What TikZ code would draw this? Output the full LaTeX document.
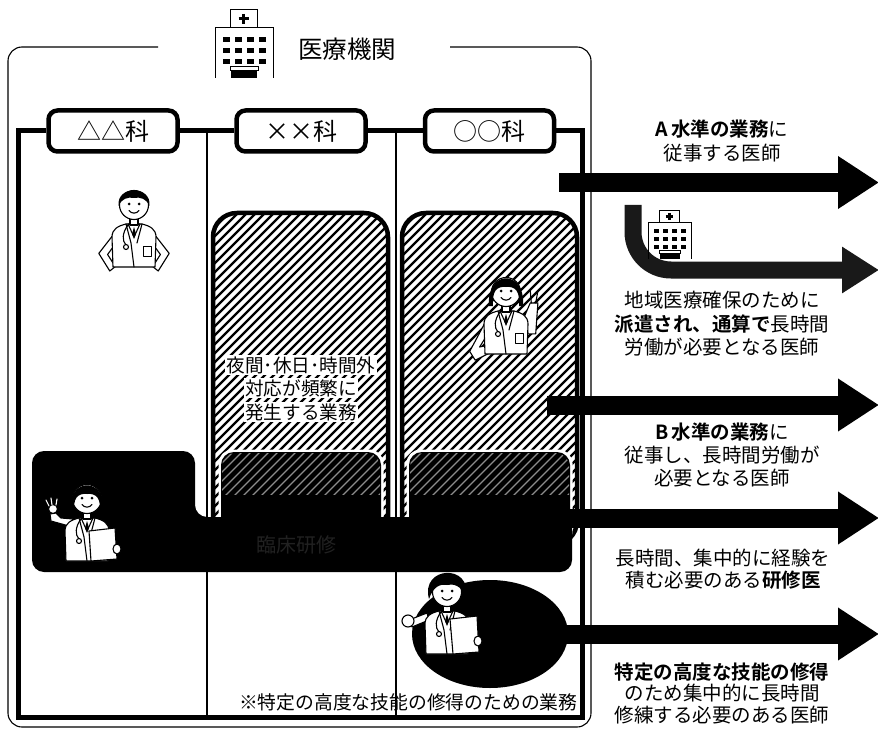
\documentclass[tikz,border=0pt]{standalone}
\usepackage{fontspec}
\setmainfont{Noto Sans CJK JP}[BoldFont={Noto Sans CJK JP Bold}]
\usetikzlibrary{arrows.meta}
\definecolor{bandgray}{gray}{0.13}
\definecolor{streak}{gray}{0.55}
\definecolor{grain}{gray}{0.1}

\tikzset{
  thinline/.style={line width=1.1pt},
  thickline/.style={line width=5pt},
  dept/.style={draw, line width=4.5pt, rounded corners=9pt, fill=white,
    minimum width=129pt, minimum height=41pt, inner sep=0pt,
    font=\fontsize{24pt}{26pt}\selectfont},
  shaft/.style={line width=19pt, -{Triangle[length=41pt,width=50pt]}},
  caption/.style={align=center, font=\fontsize{19.5pt}{23.5pt}\selectfont},
  duty/.style={fill=white, inner sep=1.5pt, font=\fontsize{18.6pt}{20pt}\selectfont},
  hatchline/.style={line width=2.2pt},
  docline/.style={line width=1.1pt, line join=round, line cap=round},
  pics/hospital/.style={code={
    \draw[line width=1pt] (15,0) rectangle (42,-18);
    \draw[line width=3pt] (28.5,-14) -- (28.5,-4) (23.5,-9) -- (33.5,-9);
    \draw[line width=1pt] (0,50) -- (0,0) -- (58,0) -- (58,50);
    \foreach \cx in {8,20,32,44} \foreach \cy in {9,20,31}
      \fill (\cx,\cy) rectangle ++(7,5);
    \fill (16,42) rectangle (42,50);
    \filldraw[fill=white, line width=0.8pt] (15,38) rectangle (43,42);
  }},
  pics/docbust/.style={code={
    \filldraw[docline, fill=white] (-21,62) -- (-22,32) .. controls (-22,24) and (-16,21) .. (-8,19)
      -- (8,19) .. controls (16,21) and (22,24) .. (22,32) -- (21,62) -- cycle;
    \filldraw[docline, fill=white] (-6,19) -- (0,32) -- (6,19) -- cycle;
    \fill (0,22) -- (-2,29) -- (0,34) -- (2,29) -- cycle;
    \draw[docline] (-8,19) -- (-3,38) -- (0,62);
    \draw[docline] (8,19) -- (3,38);
    \draw[docline] (-6,20) .. controls (-12,28) and (-12,36) .. (-8,40);
    \filldraw[docline, fill=white] (-8,42) circle (2.5pt);
    \filldraw[docline, fill=white] (-4,11) rectangle (4,20);
    \filldraw[docline, fill=white] (0,0) circle (14.5pt);
    \fill (-5,-1) circle (1.5pt);
    \fill (5,-1) circle (1.5pt);
    \draw[docline] (-5,5.5) .. controls (-2.5,9) and (2.5,9) .. (5,5.5);
  }},
  pics/hairshort/.style={code={
    \fill (-15.4,1) .. controls (-18,-20) and (18,-20) .. (15.4,1)
      .. controls (13,-6) and (6,-8.5) .. (0,-7) .. controls (-6,-8.5) and (-13,-6) .. (-15.4,1) -- cycle;
  }},
  pics/hairpuffy/.style={code={
    \fill (-18,7) .. controls (-27,-26) and (25,-29) .. (19,5)
      .. controls (14,-7) and (6,-8.5) .. (0,-7) .. controls (-7,-8.5) and (-14,-5) .. (-18,7) -- cycle;
  }},
  pics/hairbob/.style={code={
    \fill (-17,14) .. controls (-20,-23) and (20,-23) .. (17,14) -- (13,14)
      .. controls (14,0) and (10,-6) .. (0,-5) .. controls (-10,-6) and (-14,0) .. (-13,14) -- cycle;
  }},
}

\begin{document}
\begin{tikzpicture}[x=1pt,y=-1pt]
\fill[white] (0,0) rectangle (878,730);
\useasboundingbox (0,0) rectangle (878,730);

% outer frame of the institution, open at the top for the title
\draw[thinline, rounded corners=14pt] (158,47) -- (8,47) -- (8,727) -- (591,727) -- (591,47) -- (450,47);
\pic at (215,28) {hospital};
\node[font=\fontsize{24.5pt}{26pt}\selectfont] (title) at (347,49) {医療機関};

% column dividers
\draw[thinline] (207,131) -- (207,717);
\draw[thinline] (396,131) -- (396,717);

% hatched duty blocks (night / holiday work)
\foreach \xl/\xr in {213/388,402/577}{
  \begin{scope}
    \clip[rounded corners=24pt] (\xl,213) rectangle (\xr,545);
    \foreach \k in {-130,-121,...,580}
      \draw[hatchline] (\k,545) -- ++(340,-340);
  \end{scope}
  \draw[line width=4.5pt, rounded corners=24pt] (\xl,213) rectangle (\xr,545);
}

\node[duty] (d1) at (301,365) {夜間･休日･時間外};
\node[duty] (d2) at (301,388) {対応が頻繁に};
\node[duty] (d3) at (301,412) {発生する業務};

% doctor in the right block
\begin{scope}[shift={(506,292)}, scale=1.1]
  \filldraw[docline, fill=white] (-18,26) -- (-33,54) -- (-28,62) -- (-12,54) -- (-14,48) -- (-24,50) -- (-14,34) -- cycle;
  \filldraw[docline, fill=white] (16,24) -- (22,10) -- (29,10) -- (27,38) -- (20,38) -- cycle;
  \draw[docline] (23,10) -- (22,-2);
  \draw[docline] (27,10) -- (29,-1);
  \pic {docbust};
  \pic {hairbob};
  \filldraw[docline, fill=white] (9,38) rectangle (16,47);
\end{scope}

% darker lower parts of the blocks
\foreach \xl/\xr/\il/\ir in {213/388/221/381,402/577/409/570}{
  \fill[white, rounded corners=14pt] (\il-2.5,449.5) rectangle (\ir+2.5,545);
  \fill[rounded corners=13pt] (\il,452) rectangle (\ir,545);
  \begin{scope}
    \clip (\il,452) rectangle (\ir,494);
    \clip[rounded corners=13pt] (\il+1,453) rectangle (\ir-1,545);
    \foreach \k in {-130,-121,...,580}
      \draw[streak, line width=1.3pt] (\k,545) -- ++(340,-340);
  \end{scope}
}

% training band
\fill[rounded corners=12pt] (32,572) -- (32,451) -- (195,451) -- (195,517) -- (572,517) -- (572,572) -- cycle;
\node[text=bandgray, font=\fontsize{20pt}{22pt}\selectfont] (bandtxt) at (296,545) {臨床研修};
\begin{scope}[shift={(87,499)}]
  \filldraw[docline, fill=white] (-18,27) -- (-36,22) -- (-37,15) -- (-31,14) -- (-26,19) -- (-14,20) -- cycle;
  \filldraw[docline, fill=white] (-34,10) circle (4.5pt);
  \draw[docline, white] (-38,7) -- (-41,1) (-35,6) -- (-36,-1) (-31,6) -- (-30,0);
  \pic {docbust};
  \pic {hairbob};
  \filldraw[docline, fill=white] (2,32) -- (28,29) -- (30,60) -- (4,62) -- cycle;
  \filldraw[docline, fill=white] (30,50) ellipse (4pt and 5pt);
\end{scope}

% specialised skill area
\fill (490,634) ellipse [x radius=78pt, y radius=54pt];
\begin{scope}[shift={(447,592)}]
  \filldraw[docline, fill=white] (-18,28) -- (-35,35) -- (-38,28) -- (-20,21) -- cycle;
  \filldraw[docline, fill=white] (-39,29) circle (6pt);
  \pic {docbust};
  \pic {hairpuffy};
  \filldraw[docline, fill=white] (3,27) -- (30,24) -- (32,60) -- (6,62) -- cycle;
  \filldraw[docline, fill=white] (31,49) ellipse (4pt and 5pt);
\end{scope}

% doctor in the left column
\begin{scope}[shift={(134,205)}, scale=1.1]
  \filldraw[docline, fill=white] (-18,26) -- (-32,44) -- (-22,60) -- (-17,56) -- (-24,45) -- (-16,34) -- cycle;
  \filldraw[docline, fill=white] (18,26) -- (32,44) -- (22,60) -- (17,56) -- (24,45) -- (16,34) -- cycle;
  \pic {docbust};
  \pic {hairshort};
  \filldraw[docline, fill=white] (9,38) rectangle (16,47);
\end{scope}

% departments and the inner frame joining them
\coordinate (cTL) at (18,131);
\coordinate (cBL) at (18,717);
\coordinate (cBR) at (582,717);
\coordinate (cTR) at (582,131);
\node[dept] (dA) at (113,131) {△△科};
\node[dept] (dB) at (301,131) {××科};
\node[dept] (dC) at (489.5,131) {○○科};
\draw[thickline] (dA.west) -- (cTL) -- (cBL) -- (cBR) -- (cTR) -- (dC.east);
\draw[thickline] (dA.east) -- (dB.west);
\draw[thickline] (dB.east) -- (dC.west);

\node[font=\fontsize{18.8pt}{20pt}\selectfont, anchor=east] (foot) at (581,702) {※特定の高度な技能の修得のための業務};

% outgoing arrows
\coordinate (aS) at (559,182.5);  \coordinate (aE) at (879,182.5);
\coordinate (bS) at (547,405);    \coordinate (bE) at (879,405);
\coordinate (cS) at (565,518);    \coordinate (cE) at (879,518);
\coordinate (eS) at (560,634);    \coordinate (eE) at (879,634);
\coordinate (pS) at (633,205);    \coordinate (pE) at (879,270);
\draw[shaft] (aS) -- (aE);
\draw[shaft] (bS) -- (bE);
\draw[shaft] (cS) -- (cE);
\draw[shaft] (eS) -- (eE);
\draw[grain, line width=17pt, rounded corners=38pt, -{Triangle[length=37pt,width=44pt]}] (pS) |- (pE);
\pic[xscale=0.75, yscale=0.72] at (648,223) {hospital};

\node[caption] (tA) at (722,141) {\textbf{A\,水準の業務}に\\従事する医師};
\node[caption] (tP) at (722,324) {地域医療確保のために\\\textbf{派遣され、通算で}長時間\\労働が必要となる医師};
\node[caption, font=\fontsize{19.5pt}{23pt}\selectfont] (tB) at (722,455) {\textbf{B\,水準の業務}に\\従事し、長時間労働が\\必要となる医師};
\node[caption, font=\fontsize{19.5pt}{22pt}\selectfont] (tC) at (723,569) {長時間、集中的に経験を\\積む必要のある\textbf{研修医}};
\node[caption, font=\fontsize{19.5pt}{21.5pt}\selectfont] (tE) at (722,693) {\textbf{特定の高度な技能の修得}\\のため集中的に長時間\\修練する必要のある医師};
\end{tikzpicture}
\end{document}
